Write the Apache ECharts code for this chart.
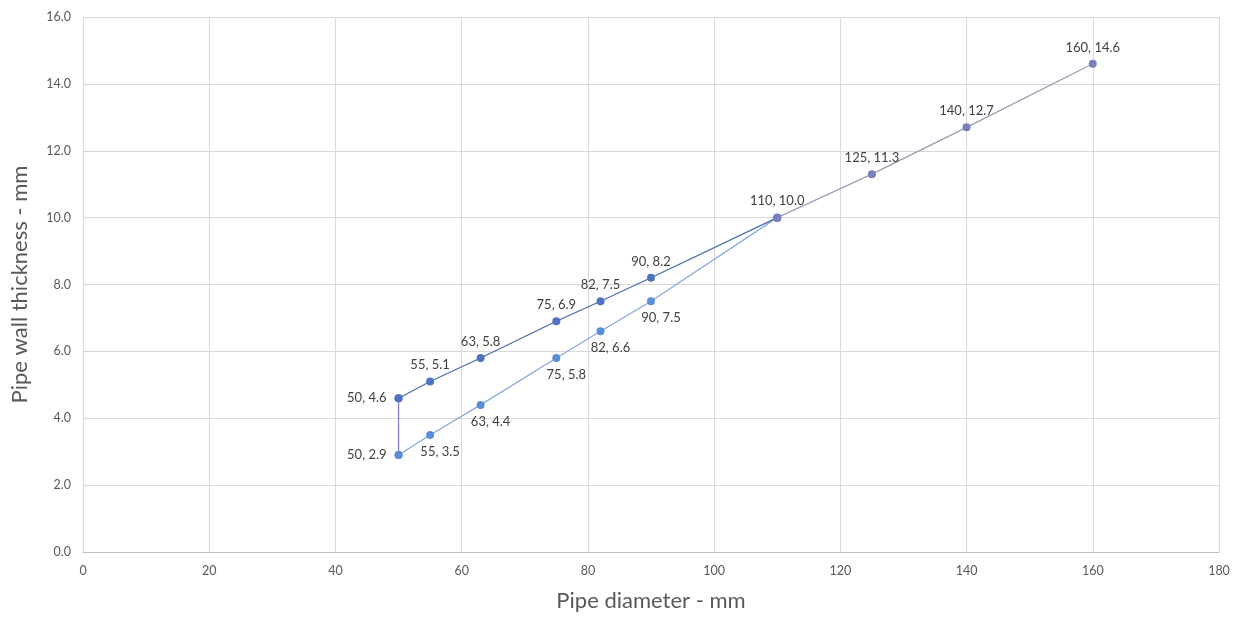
<!DOCTYPE html>
<html><head><meta charset="utf-8">
<script src="https://cdn.jsdelivr.net/npm/echarts@6/dist/echarts.min.js"></script>
<style>html,body{margin:0;padding:0;background:#fff}#c{width:1244px;height:620px}</style>
</head><body><div id="c"></div>
<script>
const upperX = [50, 55, 63, 75, 82, 90, 110];
const upperY = [4.6, 5.1, 5.8, 6.9, 7.5, 8.2, 10.0];
const lowerX = [50, 55, 63, 75, 82, 90, 110];
const lowerY = [2.9, 3.5, 4.4, 5.8, 6.6, 7.5, 10.0];
const extX = [110, 125, 140, 160];
const extY = [10.0, 11.3, 12.7, 14.6];
const linkX = [50, 50];
const linkY = [2.9, 4.6];

const zip = (xs, ys) => xs.map((x, i) => [x, ys[i]]);
const fmt = p => p.value[0] + ', ' + p.value[1].toFixed(1);
const labelFont = { fontFamily: 'Lato', fontSize: 13, color: '#404040' };

function mk(xs, ys, line, mark, pos, extra) {
  return Object.assign({
    type: 'line', data: zip(xs, ys), symbol: 'circle', symbolSize: 8,
    lineStyle: { color: line, width: 1.2 }, itemStyle: { color: mark },
    label: Object.assign({ show: true, position: pos, formatter: fmt, distance: 6 }, labelFont),
    z: 3
  }, extra || {});
}

const upper = mk(upperX, upperY, '#4a6aa8', '#4f72c2', 'top');
upper.data = upper.data.map((d, i) => i === 0 ? { value: d, label: { position: 'left', distance: 8 } } : d);
upper.data[upper.data.length - 1] = { value: upper.data[upper.data.length - 1], label: { show: false } };

const lower = mk(lowerX, lowerY, '#86a9d6', '#5a8fd6', 'bottom');
lower.data = lower.data.map((d, i) => {
  if (i === 0) return { value: d, label: { position: 'left', distance: 8 } };
  if (i === lower.data.length - 1) return { value: d, label: { show: false } };
  return { value: d, label: { offset: [10, 0] } };
});

const ext = mk(extX, extY, '#9a9cb4', '#7b7fba', 'top');
const link = mk(linkX, linkY, '#7a7cc4', '#6a6fc0', 'top', { label: { show: false }, z: 2 });

const chart = echarts.init(document.getElementById('c'));
chart.setOption({
  animation: false,
  grid: { left: 83, right: 25, top: 17, bottom: 68 },
  xAxis: {
    type: 'value', min: 0, max: 180, interval: 20,
    name: 'Pipe diameter - mm', nameLocation: 'middle', nameGap: 38,
    nameTextStyle: { fontFamily: 'Lato', fontSize: 22, color: '#595959' },
    axisLine: { show: true, lineStyle: { color: '#bfbfbf' } },
    axisTick: { show: false },
    axisLabel: { fontFamily: 'Lato', fontSize: 12.5, color: '#595959', margin: 12 },
    splitLine: { lineStyle: { color: '#d9d9d9' } }
  },
  yAxis: {
    type: 'value', min: 0, max: 16, interval: 2,
    name: 'Pipe wall thickness - mm', nameLocation: 'middle', nameGap: 52,
    nameTextStyle: { fontFamily: 'Lato', fontSize: 22, color: '#595959' },
    axisLine: { show: true, lineStyle: { color: '#d9d9d9' } },
    axisTick: { show: false },
    axisLabel: { fontFamily: 'Lato', fontSize: 12.5, color: '#595959', margin: 12, formatter: v => v.toFixed(1) },
    splitLine: { lineStyle: { color: '#d9d9d9' } }
  },
  series: [link, lower, upper, ext]
});
</script></body></html>
